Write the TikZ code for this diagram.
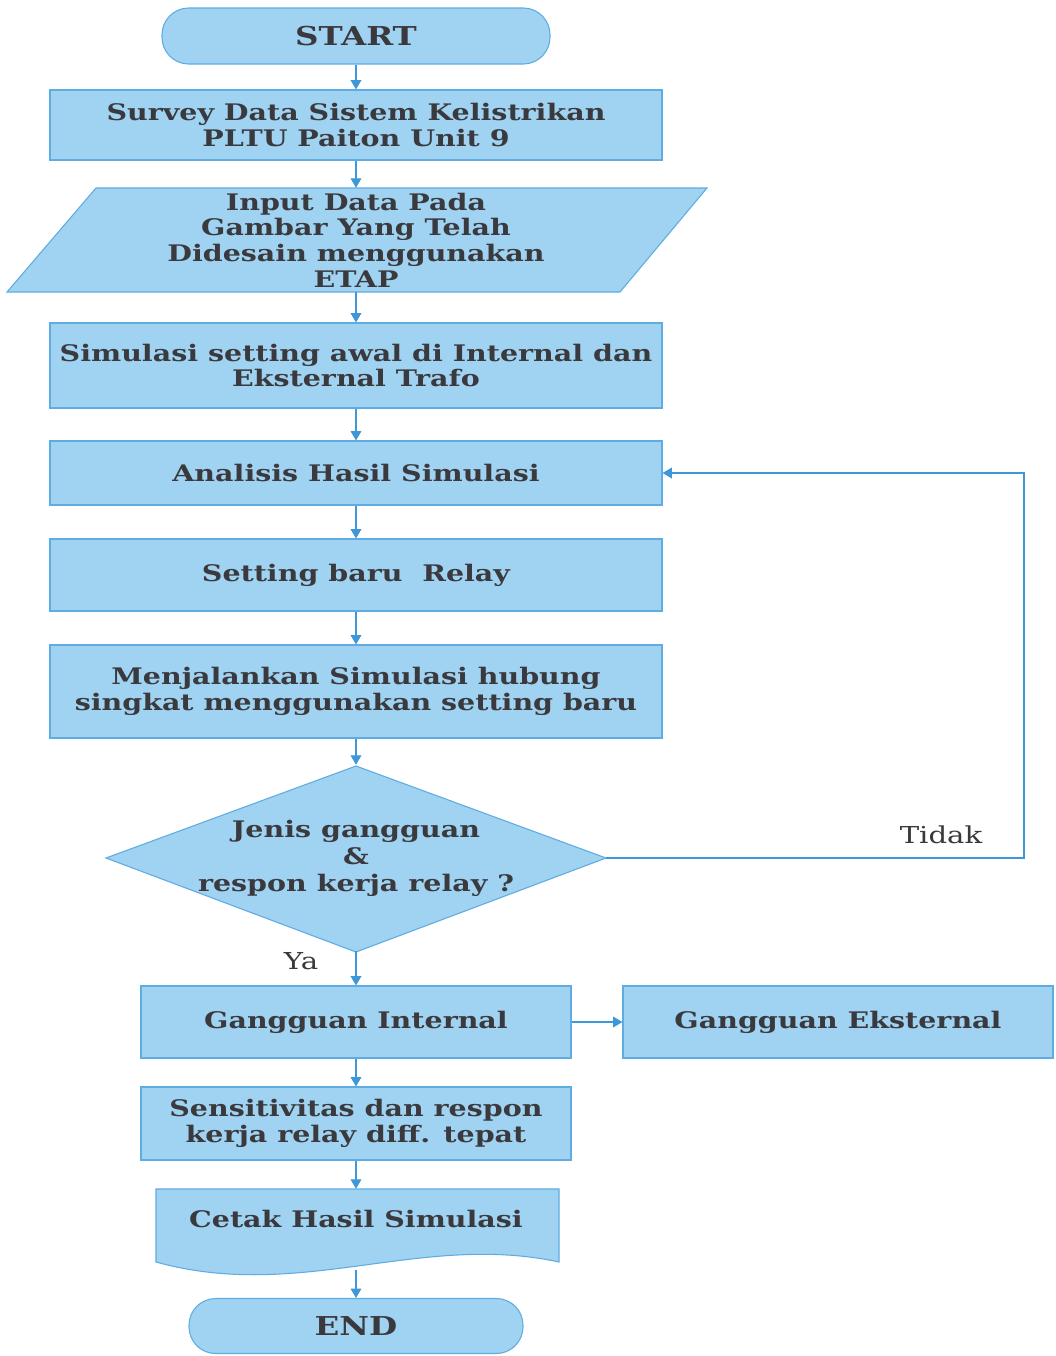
\documentclass[tikz,border=0pt]{standalone}
\usepackage{fontspec}
\setmainfont{DejaVu Serif}[FakeStretch=1.25]
\usetikzlibrary{arrows.meta,calc}
\definecolor{boxfill}{RGB}{160,210,241}
\definecolor{boxline}{RGB}{95,172,226}
\definecolor{arrcol}{RGB}{62,152,216}
\definecolor{txtcol}{RGB}{58,58,62}
\tikzset{
  base/.style={fill=boxfill,draw=boxline,line width=0.8pt,text=txtcol,font=\fontsize{17.1}{19.2}\selectfont\bfseries,align=center,inner sep=0pt},
  procbox/.style={base,rectangle,minimum width=#1*0.75pt},
  termbox/.style={base,rectangle,rounded corners=20pt,font=\fontsize{19.5}{21}\selectfont\bfseries},
  ghost/.style={rectangle,inner sep=0pt,text=txtcol,font=\fontsize{17.1}{19.2}\selectfont\bfseries,align=center},
  shapefill/.style={fill=boxfill,draw=boxline,line width=0.8pt},
  conn/.style={draw=arrcol,line width=0.8pt,-{Triangle[width=8pt,length=7pt]}},
  lbl/.style={text=txtcol,font=\fontsize{17.5}{20}\selectfont,inner sep=0pt}
}
\begin{document}
\begin{tikzpicture}[x=0.75pt,y=-0.75pt]
\useasboundingbox[fill=white] (0,0) rectangle (1056,1356);
% terminator start
\node[termbox,minimum width=291pt,minimum height=42pt] (start) at (356,36) {START};
\node[procbox=612,minimum height=52.5pt] (b1) at (356,125) {Survey Data Sistem Kelistrikan\\PLTU Paiton Unit 9};
% parallelogram
\fill[shapefill] (96,188) -- (707,188) -- (620,292) -- (7,292) -- cycle;
\node[ghost,minimum width=300pt,minimum height=78pt] (inp) at (356,240) {Input Data Pada\\Gambar Yang Telah\\Didesain menggunakan\\ETAP};
\node[procbox=612,minimum height=63.75pt] (b3) at (356,365.5) {Simulasi setting awal di Internal dan\\Eksternal Trafo};
\node[procbox=612,minimum height=48pt] (b4) at (356,473) {Analisis Hasil Simulasi};
\node[procbox=612,minimum height=54pt] (b5) at (356,575) {Setting baru\ \ Relay};
\node[procbox=612,minimum height=69.75pt] (b6) at (356,691.5) {Menjalankan Simulasi hubung\\singkat menggunakan setting baru};
% decision diamond
\fill[shapefill] (356,766) -- (606,858) -- (356,952) -- (106,858) -- cycle;
\node[ghost,minimum width=375pt,minimum height=139.5pt] (dec) at (356,858) {\raisebox{-5pt}{\parbox{300pt}{\centering Jenis gangguan\\[1pt]\&\\[1pt]respon kerja relay ?}}};
\node[procbox=430,minimum height=54pt] (b7) at (356,1022) {Gangguan Internal};
\node[procbox=430,minimum height=54pt] (b8) at (838,1022) {Gangguan Eksternal};
\node[procbox=430,minimum height=54.75pt] (b9) at (356,1123.5) {Sensitivitas dan respon\\kerja relay diff. tepat};
% document shape
\fill[shapefill] (156,1189) -- (559,1189) -- (559,1262) .. controls (420,1232) and (300,1302) .. (156,1262) -- cycle;
\node[ghost,minimum width=302pt,minimum height=45pt] (doc) at (356,1219) {Cetak Hasil Simulasi};
\coordinate (docb) at (356,1270);
\node[termbox,minimum width=250.5pt,minimum height=41.25pt] (end) at (356,1326) {END};
% connectors
\draw[conn] (start.south) -- (b1.north);
\draw[conn] (b1.south) -- (inp.north);
\draw[conn] (inp.south) -- (b3.north);
\draw[conn] (b3.south) -- (b4.north);
\draw[conn] (b4.south) -- (b5.north);
\draw[conn] (b5.south) -- (b6.north);
\draw[conn] (b6.south) -- (dec.north);
\draw[conn] (dec.south) -- (b7.north);
\draw[conn] (dec.east) -- (1024,858) |- (b4.east);
\draw[conn] (b7.east) -- (b8.west);
\draw[conn] (b7.south) -- (b9.north);
\draw[conn] (b9.south) -- (doc.north);
\draw[conn] (docb) -- (end.north);
\node[lbl] (tidak) at (941,835) {Tidak};
\node[lbl] (ya) at (301,961) {Ya};
\end{tikzpicture}
\end{document}
